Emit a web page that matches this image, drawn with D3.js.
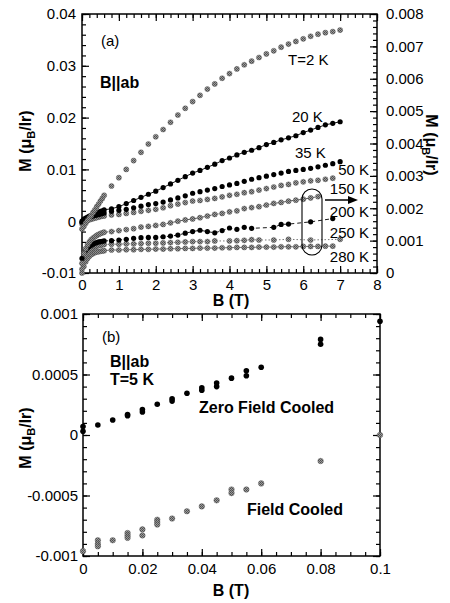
<html>
<head>
<script src="https://d3js.org/d3.v7.min.js"></script>
<style>
  body { margin: 0; background: #fff; }
  svg text { font-family: "Liberation Sans", Arial, Helvetica, sans-serif; }
  .axis .domain { display: none; }
  .axis line { stroke: #000; stroke-width: 1.2; }
</style>
</head>
<body>
<svg id="chart" width="450" height="603"></svg>
<script>
// ---------- panel (a) : M vs B, B||ab, several temperatures ----------
// field points (T): dense low-field sweep, then 0.2 T steps
const fieldA = [0, 0.05, 0.1, 0.15, 0.2, 0.25, 0.3, 0.35, 0.4, 0.45, 0.5, 0.55, 0.6,
  0.8, 1.0, 1.2, 1.4, 1.6, 1.8, 2.0, 2.2, 2.4, 2.6, 2.8, 3.0, 3.2, 3.4, 3.6, 3.8, 4.0,
  4.2, 4.4, 4.6, 4.8, 5.0, 5.2, 5.4, 5.6, 5.8, 6.0, 6.2, 6.4, 6.6, 6.8, 7.0];

// left axis series (muB/Ir)
const m2K = [-0.0015, -0.0010, -0.0004, 0.0001, 0.0006, 0.0011, 0.0017, 0.0022, 0.0028, 0.0033, 0.0039, 0.0044, 0.0050,
  0.0068, 0.0084, 0.0100, 0.0117, 0.0133, 0.0149, 0.0163, 0.0177, 0.0191, 0.0205, 0.0218, 0.0231, 0.0243, 0.0255, 0.0265, 0.0276, 0.0285,
  0.0294, 0.0302, 0.0309, 0.0316, 0.0323, 0.0329, 0.0336, 0.0342, 0.0347, 0.0352, 0.0357, 0.0361, 0.0364, 0.0366, 0.0369];
const m20K = [0.0000, 0.0004, 0.0006, 0.0008, 0.0010, 0.0011, 0.0013, 0.0014, 0.0016, 0.0017, 0.0019, 0.0020, 0.0022,
  0.0024, 0.0028, 0.0034, 0.0040, 0.0046, 0.0052, 0.0058, 0.0065, 0.0072, 0.0079, 0.0086, 0.0093, 0.0098, 0.0104, 0.0110, 0.0117, 0.0122,
  0.0128, 0.0133, 0.0137, 0.0142, 0.0148, 0.0152, 0.0157, 0.0161, 0.0165, 0.0171, 0.0176, 0.0181, 0.0186, 0.0189, 0.0192];
const m35K = [-0.0002, 0.0002, 0.0004, 0.0006, 0.0007, 0.0009, 0.0010, 0.0011, 0.0012, 0.0013, 0.0014, 0.0015, 0.0016,
  0.0019, 0.0021, 0.0023, 0.0026, 0.0029, 0.0032, 0.0034, 0.0037, 0.0041, 0.0045, 0.0049, 0.0054, 0.0057, 0.0060, 0.0063, 0.0067, 0.0070,
  0.0073, 0.0077, 0.0081, 0.0084, 0.0087, 0.0090, 0.0093, 0.0096, 0.0098, 0.0100, 0.0102, 0.0105, 0.0108, 0.0111, 0.0115];
const m50K = [-0.0005, -0.0001, 0.0001, 0.0002, 0.0003, 0.0004, 0.0005, 0.0006, 0.0007, 0.0008, 0.0009, 0.0010, 0.0010,
  0.0012, 0.0013, 0.0015, 0.0017, 0.0019, 0.0021, 0.0023, 0.0026, 0.0030, 0.0033, 0.0036, 0.0039, 0.0040, 0.0042, 0.0044, 0.0047, 0.0050,
  0.0052, 0.0055, 0.0057, 0.0060, 0.0063, 0.0066, 0.0069, 0.0071, 0.0074, 0.0076, 0.0078, 0.0079, 0.0081, 0.0083, null];

// right axis series (muB/Ir)
const m150K = [0.00030, 0.00060, 0.00075, 0.00087, 0.00096, 0.00103, 0.00108, 0.00112, 0.00116, 0.00119, 0.00122, 0.00124, 0.00126,
  0.00128, 0.00131, 0.00134, 0.00137, 0.00142, 0.00144, 0.00147, 0.00150, 0.00155, 0.00160, 0.00164, 0.00167, 0.00171, 0.00176, 0.00181, 0.00184, 0.00189,
  0.00192, 0.00199, 0.00202, 0.00205, 0.00210, 0.00215, 0.00218, 0.00222, 0.00225, 0.00228, 0.00232, 0.00236, null, null, null];
const m200K = [0.00045, 0.00060, 0.00070, 0.00077, 0.00082, 0.00086, 0.00089, 0.00092, 0.00094, 0.00096, 0.00097, 0.00098, 0.00099,
  0.00100, 0.00102, 0.00104, 0.00107, 0.00109, 0.00110, 0.00110, 0.00112, 0.00114, 0.00117, 0.00123, 0.00128, 0.00132, 0.00128, 0.00124, 0.00131, 0.00139,
  0.00135, 0.00141, 0.00138, null, null, 0.00141, 0.00150, 0.00151, null, null, 0.00158, null, null, 0.00168, null];
const m250K = [0.00012, 0.00040, 0.00055, 0.00064, 0.00070, 0.00075, 0.00078, 0.00081, 0.00083, 0.00085, 0.00086, 0.00087, 0.00088,
  0.00089, 0.00089, 0.00090, 0.00090, 0.00091, 0.00092, 0.00092, 0.00093, 0.00094, 0.00095, 0.00096, 0.00097, 0.00097, 0.00097, 0.00099, null, 0.00099,
  0.00100, 0.00101, 0.00103, 0.00102, null, 0.00102, null, 0.00104, null, null, 0.00102, null, null, null, 0.00104];
const m280K = [0.00000, 0.00020, 0.00035, 0.00045, 0.00052, 0.00057, 0.00060, 0.00063, 0.00065, 0.00066, 0.00067, 0.00068, 0.00069,
  0.00071, 0.00071, 0.00072, 0.00072, 0.00073, 0.00073, 0.00074, 0.00074, 0.00075, 0.00075, 0.00076, 0.00076, 0.00077, 0.00077, 0.00077, 0.00078, 0.00078,
  0.00079, 0.00079, 0.00079, 0.00080, 0.00080, 0.00080, 0.00081, 0.00081, 0.00081, 0.00082, 0.00082, 0.00082, 0.00083, 0.00083, null];

const xTicksA = [0, 1, 2, 3, 4, 5, 6, 7, 8];
const xTickLabelsA = ["0", "1", "2", "3", "4", "5", "6", "7", "8"];
const yTicksA = [-0.01, 0, 0.01, 0.02, 0.03, 0.04];
const yTickLabelsA = ["-0.01", "0", "0.01", "0.02", "0.03", "0.04"];
const y2TicksA = [0, 0.001, 0.002, 0.003, 0.004, 0.005, 0.006, 0.007, 0.008];
const y2TickLabelsA = ["0", "0.001", "0.002", "0.003", "0.004", "0.005", "0.006", "0.007", "0.008"];

// ---------- panel (b) : T = 5 K, ZFC and FC ----------
const fieldZFC = [0, 0, 0.005, 0.01, 0.015, 0.015, 0.02, 0.02, 0.025, 0.03, 0.03, 0.035, 0.04, 0.04, 0.045, 0.045, 0.05, 0.055, 0.055, 0.06, 0.08, 0.08, 0.1];
const mZFC = [0.00007, 0.00003, 0.000083, 0.000124, 0.00017, 0.00016, 0.00021, 0.00019, 0.000254, 0.0003, 0.00028, 0.000345, 0.00039, 0.00037, 0.00043, 0.0004, 0.00047, 0.00053, 0.00049, 0.00056, 0.00079, 0.00075, 0.00094];
const fieldFC = [0, 0.005, 0.005, 0.005, 0.01, 0.015, 0.015, 0.015, 0.02, 0.02, 0.025, 0.025, 0.025, 0.03, 0.035, 0.04, 0.045, 0.05, 0.05, 0.055, 0.06, 0.08, 0.1];
const mFC = [-0.00096, -0.00087, -0.0009, -0.00092, -0.00087, -0.00081, -0.00083, -0.00085, -0.00078, -0.00083, -0.0007, -0.00072, -0.00074, -0.00069, -0.00063, -0.00059, -0.00054, -0.00045, -0.00048, -0.00045, -0.0004, -0.000215, 0.0];

const xTicksB = [0, 0.02, 0.04, 0.06, 0.08, 0.1];
const xTickLabelsB = ["0", "0.02", "0.04", "0.06", "0.08", "0.1"];
const yTicksB = [-0.001, -0.0005, 0, 0.0005, 0.001];
const yTickLabelsB = ["-0.001", "-0.0005", "0", "0.0005", "0.001"];

// ---------- layout ----------
const svg = d3.select("#chart");
const A = {left: 82, right: 377, top: 14, bottom: 273};
const P = {left: 83, right: 380, top: 314, bottom: 556};

const xA = d3.scaleLinear().domain([0, 8]).range([A.left, A.right]);
const yA = d3.scaleLinear().domain([-0.01, 0.04]).range([A.bottom, A.top]);
const yA2 = d3.scaleLinear().domain([0, 0.008]).range([A.bottom, A.top]);
const xB = d3.scaleLinear().domain([0, 0.1]).range([P.left, P.right]);
const yB = d3.scaleLinear().domain([-0.001, 0.001]).range([P.bottom, P.top]);

const defs = svg.append("defs");
// speckled grey used by the grey symbols
const pat = defs.append("pattern").attr("id", "speck")
  .attr("patternUnits", "userSpaceOnUse").attr("width", 2).attr("height", 2);
pat.append("rect").attr("width", 2).attr("height", 2).attr("fill", "#9a9a9a");
pat.append("rect").attr("width", 1).attr("height", 1).attr("fill", "#4c4c4c");
pat.append("rect").attr("x", 1).attr("y", 1).attr("width", 1).attr("height", 1).attr("fill", "#5a5a5a");

const steps = (lo, hi, step) => d3.range(Math.round((hi - lo) / step) + 1).map(i => +(lo + i * step).toFixed(6));

function styleText(g, size) {
  g.selectAll("text").attr("font-size", size).attr("fill", "#000")
    .attr("font-family", '"Liberation Sans", Arial, Helvetica, sans-serif');
}

function addAxis(axisFn, scale, translate, major, minor, labels, pad) {
  svg.append("g").attr("class", "axis").attr("transform", translate)
    .call(axisFn(scale).tickValues(minor).tickSize(-4).tickFormat(""));
  const gMaj = svg.append("g").attr("class", "axis").attr("transform", translate)
    .call(axisFn(scale).tickValues(major).tickSize(-7).tickPadding(pad)
      .tickFormat(labels ? (d, i) => labels[i] : ""));
  styleText(gMaj, 15);
  return gMaj;
}

// panel (a) axes
addAxis(d3.axisBottom, xA, `translate(0,${A.bottom})`, xTicksA, steps(0, 8, 0.2), xTickLabelsA, 6);
addAxis(d3.axisTop, xA, `translate(0,${A.top})`, xTicksA, steps(0, 8, 0.2), null, 7);
addAxis(d3.axisLeft, yA, `translate(${A.left},0)`, yTicksA, steps(-0.01, 0.04, 0.002), yTickLabelsA, 6);
addAxis(d3.axisRight, yA2, `translate(${A.right},0)`, y2TicksA, steps(0, 0.008, 0.0002), y2TickLabelsA, 9);

// panel (b) axes
addAxis(d3.axisBottom, xB, `translate(0,${P.bottom})`, xTicksB, steps(0, 0.1, 0.005), xTickLabelsB, 7);
addAxis(d3.axisTop, xB, `translate(0,${P.top})`, xTicksB, steps(0, 0.1, 0.005), null, 7);
addAxis(d3.axisLeft, yB, `translate(${P.left},0)`, yTicksB, steps(-0.001, 0.001, 0.0001), yTickLabelsB, 5);
addAxis(d3.axisRight, yB, `translate(${P.right},0)`, yTicksB, steps(-0.001, 0.001, 0.0001), null, 5);

// frames
[A, P].forEach(f => {
  svg.append("rect").attr("x", f.left).attr("y", f.top)
    .attr("width", f.right - f.left).attr("height", f.bottom - f.top)
    .attr("fill", "none").attr("stroke", "#000").attr("stroke-width", 1.5);
});

// ---------- panel (a) series ----------
const seriesA = [
  {values: m280K, y: yA2, fill: "url(#speck)", line: "#666", dash: null},
  {values: m250K, y: yA2, fill: "url(#speck)", line: "#666", dash: "1.5,2"},
  {values: m200K, y: yA2, fill: "#000", line: "#000", dash: "4,3"},
  {values: m150K, y: yA2, fill: "url(#speck)", line: "#444", dash: "4,3"},
  {values: m50K, y: yA, fill: "url(#speck)", line: null, dash: null},
  {values: m35K, y: yA, fill: "#000", line: null, dash: null},
  {values: m20K, y: yA, fill: "#000", line: "#000", dash: null},
  {values: m2K, y: yA, fill: "url(#speck)", line: null, dash: null}
];

const plotA = svg.append("g");
seriesA.forEach(s => {
  const pts = fieldA.map((b, i) => ({b: b, m: s.values[i]})).filter(d => d.m !== null);
  if (s.line) {
    const hi = pts.filter(d => d.b >= 0.6);
    plotA.append("path").datum(hi)
      .attr("d", d3.line().x(d => xA(d.b)).y(d => s.y(d.m)))
      .attr("fill", "none").attr("stroke", s.line).attr("stroke-width", 0.9)
      .attr("stroke-dasharray", s.dash);
  }
  plotA.append("g").selectAll("circle").data(pts).join("circle")
    .attr("cx", d => xA(d.b)).attr("cy", d => s.y(d.m)).attr("r", 2.6)
    .attr("fill", s.fill)
    .attr("stroke", s.fill === "#000" ? "none" : "#555").attr("stroke-width", 0.4);
});

// annotations panel (a)
const txt = (x, y, s, size, weight, anchor) => svg.append("text")
  .attr("x", x).attr("y", y).attr("font-size", size).attr("font-weight", weight || "normal")
  .attr("text-anchor", anchor || "start").text(s);

txt(101, 46, "(a)", 15);
txt(100, 88, "B||ab", 16, "bold");
txt(288, 65, "T=2 K", 15);
txt(292, 122, "20 K", 15);
txt(295, 158, "35 K", 15);
txt(369, 175, "50 K", 15, "normal", "end");
txt(369, 194, "150 K", 15, "normal", "end");
txt(369, 217, "200 K", 15, "normal", "end");
txt(369, 238, "250 K", 15, "normal", "end");
txt(369, 262, "280 K", 15, "normal", "end");

svg.append("rect").attr("x", 302).attr("y", 189).attr("width", 20).attr("height", 66)
  .attr("rx", 10).attr("fill", "none").attr("stroke", "#000").attr("stroke-width", 1.1);
svg.append("line").attr("x1", 325).attr("y1", 200).attr("x2", 350).attr("y2", 200)
  .attr("stroke", "#000").attr("stroke-width", 1.5);
svg.append("path").attr("d", "M348,196 L358,200 L348,204 Z").attr("fill", "#000");

// axis titles
function yTitle(x, y, rot) {
  const t = svg.append("text").attr("transform", `translate(${x},${y}) rotate(${rot})`)
    .attr("text-anchor", "middle").attr("font-size", 16).attr("font-weight", "bold");
  t.append("tspan").text("M (\u03bc");
  t.append("tspan").attr("font-size", 11).attr("dy", 4).text("B");
  t.append("tspan").attr("dy", -4).text("/Ir)");
}
yTitle(31, 141, -90);
yTitle(426, 145, 90);
yTitle(31, 438, -90);
txt(231, 306, "B (T)", 16, "bold", "middle");
txt(231, 596, "B (T)", 16, "bold", "middle");

// ---------- panel (b) series ----------
const plotB = svg.append("g");
plotB.append("g").selectAll("circle").data(fieldFC.map((b, i) => ({b: b, m: mFC[i]}))).join("circle")
  .attr("cx", d => xB(d.b)).attr("cy", d => yB(d.m)).attr("r", 2.8)
  .attr("fill", "url(#speck)").attr("stroke", "#555").attr("stroke-width", 0.4);
plotB.append("g").selectAll("circle").data(fieldZFC.map((b, i) => ({b: b, m: mZFC[i]}))).join("circle")
  .attr("cx", d => xB(d.b)).attr("cy", d => yB(d.m)).attr("r", 2.8)
  .attr("fill", "#000");

txt(102, 342, "(b)", 15);
txt(110, 367, "B||ab", 16, "bold");
txt(110, 385, "T=5 K", 16, "bold");
txt(199, 413, "Zero Field Cooled", 16, "bold");
txt(247, 515, "Field Cooled", 16, "bold");
</script>
</body>
</html>
